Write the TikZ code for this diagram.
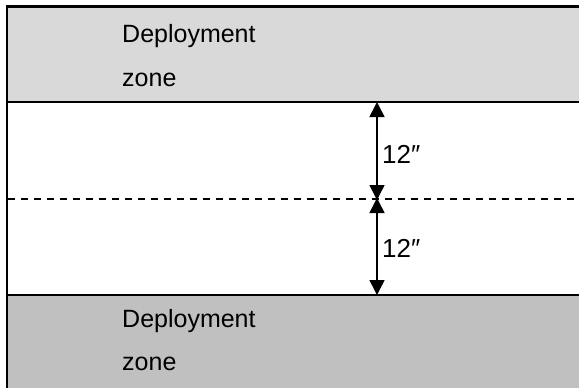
\documentclass[tikz,border=0pt]{standalone}
\usepackage{fontspec}
\setmainfont{Liberation Sans}
\usetikzlibrary{arrows.meta}
\definecolor{zoneA}{HTML}{D9D9D9}
\definecolor{zoneB}{HTML}{C0C0C0}
\tikzset{
  lbl/.style={anchor=base west, inner sep=0pt, font=\fontsize{25}{29}\selectfont},
  dimlbl/.style={anchor=base west, inner sep=0pt, font=\fontsize{26}{30}\selectfont},
  border/.style={line width=2.5pt, black},
  midline/.style={line width=1.8pt, dash pattern=on 7pt off 6pt},
  dim/.style={line width=1.5pt, {Triangle[width=15pt,length=15pt]}-{Triangle[width=15pt,length=15pt]}, shorten <=-1pt, shorten >=-1pt}
}
\begin{document}
\begin{tikzpicture}[x=1pt,y=-1pt]
\useasboundingbox (0,0) rectangle (579,388);
\fill[white] (0,0) rectangle (579,388);
\fill[zoneA] (7,7) rectangle (579,102);
\fill[zoneB] (7,295) rectangle (579,388);
\draw[border] (7,388) -- (7,6.5) -- (579,6.5);
\draw[border, line width=2pt] (6,102) -- (579,102);
\draw[border, line width=2pt] (6,295) -- (579,295);
\draw[midline] (8,199) -- (576,199);
\coordinate (t) at (377,103);
\coordinate (m) at (377,199);
\coordinate (b) at (377,294);
\draw[dim] (m) -- (t);
\draw[dim] (m) -- (b);
\node[lbl] (d1) at (122,42) {Deployment};
\node[lbl] (z1) at (122,86) {zone};
\node[lbl] (d2) at (122,327) {Deployment};
\node[lbl] (z2) at (122,370) {zone};
\node[dimlbl] (l1) at (382,163) {12″};
\node[dimlbl] (l2) at (382,257) {12″};
\end{tikzpicture}
\end{document}
